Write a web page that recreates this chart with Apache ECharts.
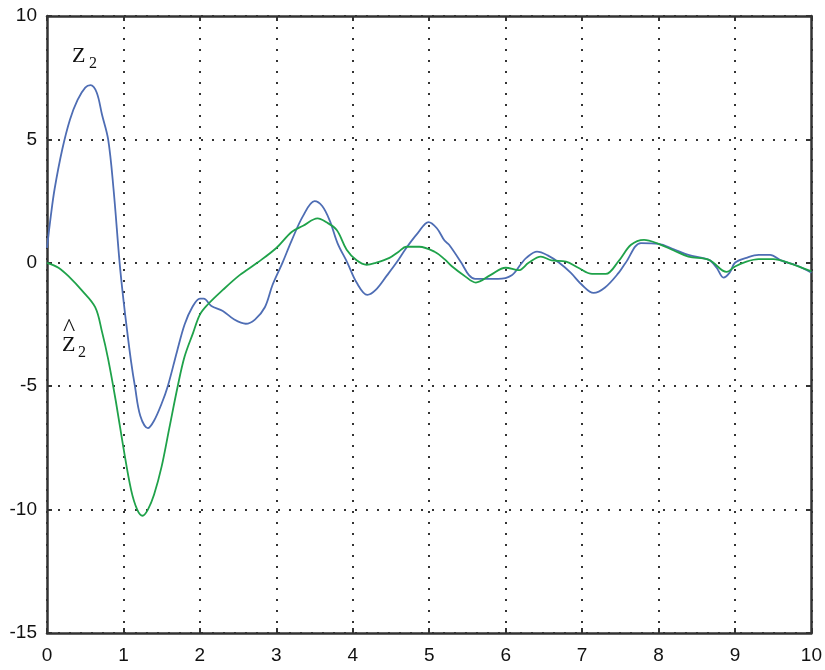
<!DOCTYPE html>
<html>
<head>
<meta charset="utf-8">
<script src="https://cdn.jsdelivr.net/npm/echarts@6/dist/echarts.min.js"></script>
<style>html,body{margin:0;padding:0;background:#fff}#c{width:825px;height:670px}</style>
</head>
<body>
<div id="c"></div>
<script>
// Z2 (blue) — time and value
var z2T = [0,0.05,0.1,0.2,0.3,0.4,0.5,0.57,0.65,0.72,0.8,0.87,0.95,1.0,1.05,1.1,1.15,1.22,1.32,1.4,1.5,1.58,1.7,1.8,1.9,2.0,2.05,2.15,2.3,2.45,2.6,2.72,2.85,2.95,3.08,3.2,3.35,3.5,3.6,3.7,3.8,3.93,4.05,4.19,4.3,4.45,4.57,4.7,4.85,4.99,5.1,5.2,5.26,5.42,5.52,5.6,5.75,5.9,6.08,6.2,6.27,6.41,6.55,6.7,6.85,7.0,7.15,7.3,7.48,7.57,7.77,8.0,8.2,8.39,8.66,8.76,8.85,8.93,9.0,9.15,9.31,9.46,9.6,9.8,10.0];
var z2V = [0.6,1.9,3.0,4.6,5.8,6.6,7.1,7.2,6.9,6.0,5.0,3.0,0.0,-1.5,-2.8,-4.0,-5.0,-6.2,-6.7,-6.4,-5.7,-5.0,-3.6,-2.5,-1.8,-1.45,-1.45,-1.75,-1.95,-2.3,-2.47,-2.3,-1.8,-0.9,0.0,0.9,1.9,2.5,2.3,1.7,0.8,0.0,-0.8,-1.3,-1.1,-0.5,0.0,0.6,1.2,1.65,1.4,0.9,0.73,0.0,-0.5,-0.65,-0.65,-0.65,-0.5,-0.05,0.2,0.45,0.3,0.0,-0.4,-0.9,-1.22,-1.0,-0.4,0.0,0.8,0.77,0.55,0.32,0.12,-0.2,-0.6,-0.4,0.0,0.2,0.32,0.32,0.1,-0.1,-0.4];
// Z2 hat (green) — time and value
var zhT = [0,0.15,0.3,0.45,0.63,0.72,0.8,0.9,1.0,1.1,1.18,1.25,1.32,1.4,1.5,1.6,1.71,1.8,1.91,2.0,2.1,2.3,2.52,2.75,3.0,3.2,3.35,3.54,3.65,3.79,3.92,4.05,4.18,4.3,4.48,4.6,4.7,4.87,5.07,5.2,5.3,5.45,5.61,5.8,6.0,6.17,6.3,6.46,6.6,6.79,6.95,7.13,7.31,7.48,7.64,7.81,8.0,8.2,8.39,8.66,8.89,9.0,9.15,9.31,9.5,9.7,10.0];
var zhV = [0,-0.2,-0.6,-1.1,-1.8,-2.8,-3.9,-5.6,-7.5,-9.2,-10.0,-10.25,-10.0,-9.4,-8.25,-6.7,-5.0,-3.8,-2.85,-2.1,-1.7,-1.1,-0.5,0.0,0.6,1.25,1.5,1.8,1.65,1.33,0.53,0.1,-0.08,0.0,0.2,0.45,0.65,0.65,0.45,0.15,-0.15,-0.5,-0.8,-0.5,-0.2,-0.3,0.0,0.25,0.1,0.05,-0.2,-0.45,-0.45,0.08,0.73,0.93,0.77,0.5,0.25,0.12,-0.37,-0.15,0.05,0.15,0.15,0.0,-0.35];
var xTicks = [0,1,2,3,4,5,6,7,8,9,10];
var yTicks = [-15,-10,-5,0,5,10];

function pairs(t, v) { return t.map(function (x, i) { return [x, v[i]]; }); }

var chart = echarts.init(document.getElementById('c'), null, {renderer: 'canvas'});
var labelFont = {color: '#111', fontSize: 19, fontFamily: 'Liberation Sans'};
var split = {show: true, lineStyle: {color: '#333', width: 2, type: [2, 9]}};
var frameLine = {show: true, onZero: false, lineStyle: {color: '#333', width: 2.5}};
var tick = {show: true, inside: true, length: 5, lineStyle: {color: '#333', width: 2}};
chart.setOption({
  animation: false,
  backgroundColor: '#fff',
  grid: {left: 47, right: 12, top: 16, bottom: 37, containLabel: false},
  xAxis: [
    {type: 'value', min: 0, max: 10, interval: 1, position: 'bottom',
     axisLine: frameLine, axisTick: tick, splitLine: split,
     axisLabel: Object.assign({margin: 13, formatter: function (v) { return xTicks.indexOf(v) >= 0 ? String(v) : ''; }}, labelFont)},
    {type: 'value', min: 0, max: 10, interval: 1, position: 'top',
     axisLine: frameLine, axisTick: tick, splitLine: {show: false}, axisLabel: {show: false}}
  ],
  yAxis: [
    {type: 'value', min: -15, max: 10, interval: 5, position: 'left',
     axisLine: frameLine, axisTick: tick, splitLine: split,
     axisLabel: Object.assign({margin: 10, formatter: function (v) { return yTicks.indexOf(v) >= 0 ? String(v) : ''; }}, labelFont)},
    {type: 'value', min: -15, max: 10, interval: 5, position: 'right',
     axisLine: frameLine, axisTick: tick, splitLine: {show: false}, axisLabel: {show: false}}
  ],
  series: [
    {name: 'Z2', type: 'line', data: pairs(z2T, z2V), showSymbol: false, smooth: 0.35,
     lineStyle: {color: '#4e6db4', width: 1.8}, z: 3},
    {name: 'Z2hat', type: 'line', data: pairs(zhT, zhV), showSymbol: false, smooth: 0.35,
     lineStyle: {color: '#1fa24a', width: 1.8}, z: 4}
  ],
  graphic: [
    {type: 'text', left: 72, top: 45, style: {text: 'Z', font: '22px "Liberation Serif"', fill: '#111'}},
    {type: 'text', left: 89, top: 56, style: {text: '2', font: '16px "Liberation Serif"', fill: '#111'}},
    {type: 'text', left: 63, top: 316, style: {text: '^', font: '26px "Liberation Serif"', fill: '#111'}},
    {type: 'text', left: 62, top: 334, style: {text: 'Z', font: '22px "Liberation Serif"', fill: '#111'}},
    {type: 'text', left: 78, top: 345, style: {text: '2', font: '16px "Liberation Serif"', fill: '#111'}}
  ]
});
</script>
</body>
</html>
